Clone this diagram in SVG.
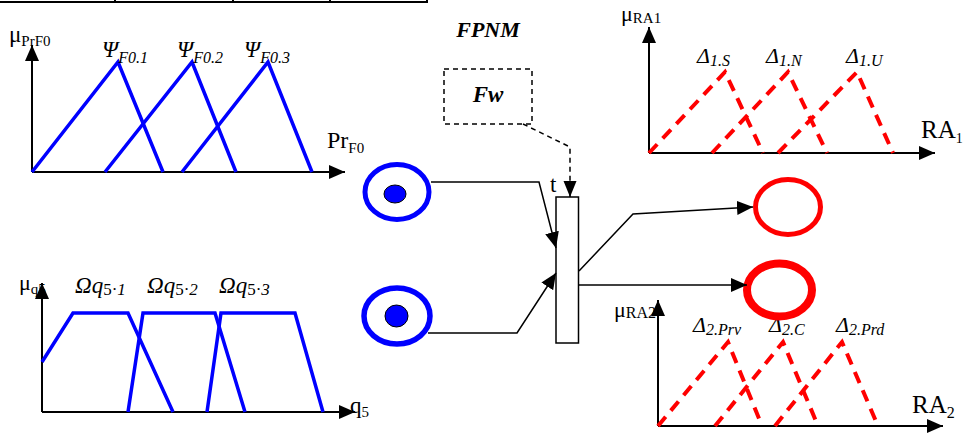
<svg xmlns="http://www.w3.org/2000/svg" width="964" height="434" viewBox="0 0 964 434" font-family="Liberation Serif, Times New Roman, serif">
<style>
.ax{stroke:#000;stroke-width:2;fill:none}
.blue{stroke:#0000ff;stroke-width:3.5;fill:none;stroke-linejoin:miter}
.red{stroke:#ff0000;stroke-width:4;fill:none;stroke-dasharray:12,8}
.con{stroke:#000;stroke-width:1.5;fill:none}
.dash{stroke:#000;stroke-width:1.5;fill:none;stroke-dasharray:5,4}
text{font-family:"Liberation Serif","Times New Roman",serif;fill:#000}
.it{font-style:italic}
.bi{font-style:italic;font-weight:bold}
</style>
<defs>
<marker id="ah" markerUnits="userSpaceOnUse" markerWidth="16" markerHeight="14" refX="16" refY="7" orient="auto">
<path d="M0,0 L16,7 L0,14 z" fill="#000"/>
</marker>
<marker id="ahs" markerUnits="userSpaceOnUse" markerWidth="16" markerHeight="14" refX="16" refY="7" orient="auto">
<path d="M0,0.5 L16,7 L0,13.5 z" fill="#000"/>
</marker>
</defs>

<!-- table fragment at top -->
<g id="table">
<line x1="0" y1="2" x2="428" y2="2" stroke="#000" stroke-width="2"/>
<line x1="115" y1="0" x2="115" y2="3" stroke="#000" stroke-width="2"/>
<line x1="233" y1="0" x2="233" y2="3" stroke="#000" stroke-width="2"/>
<line x1="330" y1="0" x2="330" y2="3" stroke="#000" stroke-width="2"/>
<line x1="427" y1="0" x2="427" y2="3" stroke="#000" stroke-width="2"/>
</g>

<!-- chart Pr_F0 -->
<g id="chart-prf0">
<line class="ax" x1="32" y1="172" x2="32" y2="45" marker-end="url(#ah)"/>
<line class="ax" x1="32" y1="172" x2="345" y2="172" marker-end="url(#ah)"/>
<polyline class="blue" points="32,172 118,62 163,172"/>
<polyline class="blue" points="105,172 192,62 236,172"/>
<polyline class="blue" points="182,172 268,62 312,172"/>
<text x="9" y="42" font-size="23">μ<tspan font-size="15" dy="4">PrF0</tspan></text>
<text class="it" x="102" y="57" font-size="23">Ψ<tspan font-size="16" dy="6">F0.1</tspan></text>
<text class="it" x="177" y="57" font-size="23">Ψ<tspan font-size="16" dy="6">F0.2</tspan></text>
<text class="it" x="244" y="57" font-size="23">Ψ<tspan font-size="16" dy="6">F0.3</tspan></text>
<text x="327" y="148" font-size="24">Pr<tspan font-size="15" dy="5">F0</tspan></text>
</g>

<!-- chart q5 -->
<g id="chart-q5">
<line class="ax" x1="42" y1="412" x2="42" y2="283" marker-end="url(#ah)"/>
<line class="ax" x1="42" y1="412" x2="355" y2="412" marker-end="url(#ah)"/>
<polyline class="blue" points="42,362 73,313 128,313 173,412"/>
<polyline class="blue" points="128,412 143,313 215,313 245,412"/>
<polyline class="blue" points="207,412 221,313 295,313 323,412"/>
<text x="19" y="290" font-size="22">μ<tspan font-size="15" dy="4">q5</tspan></text>
<text class="it" x="75" y="293" font-size="23">Ωq<tspan font-size="17" dy="2" font-style="normal">5·</tspan><tspan font-size="17">1</tspan></text>
<text class="it" x="147" y="293" font-size="23">Ωq<tspan font-size="17" dy="2" font-style="normal">5·</tspan><tspan font-size="17">2</tspan></text>
<text class="it" x="219" y="293" font-size="23">Ωq<tspan font-size="17" dy="2" font-style="normal">5·</tspan><tspan font-size="17">3</tspan></text>
<text x="350" y="413" font-size="23">q<tspan font-size="15" dy="4">5</tspan></text>
</g>

<!-- chart RA1 -->
<g id="chart-ra1">
<line class="ax" x1="649" y1="153" x2="649" y2="27" marker-end="url(#ah)"/>
<line class="ax" x1="649" y1="153" x2="935" y2="153" marker-end="url(#ah)"/>
<polyline class="red" points="649,153 725,72 763,153"/>
<polyline class="red" points="712,153 788,72 827,153"/>
<polyline class="red" points="778,153 857,72 893,153"/>
<text x="621" y="21" font-size="22">μ<tspan font-size="15" dy="2">RA1</tspan></text>
<text class="it" x="697" y="63" font-size="22">Δ<tspan font-size="16" dy="3">1.S</tspan></text>
<text class="it" x="766" y="63" font-size="22">Δ<tspan font-size="16" dy="3">1.N</tspan></text>
<text class="it" x="846" y="63" font-size="22">Δ<tspan font-size="16" dy="3">1.U</tspan></text>
<text x="921" y="138" font-size="25">RA<tspan font-size="14" dy="5">1</tspan></text>
</g>

<!-- chart RA2 -->
<g id="chart-ra2">
<line class="ax" x1="658" y1="426" x2="658" y2="300" marker-end="url(#ah)"/>
<line class="ax" x1="658" y1="426" x2="943" y2="426" marker-end="url(#ah)"/>
<polyline class="red" points="658,426 728,342 762,426"/>
<polyline class="red" points="715,426 783,342 818,426"/>
<polyline class="red" points="775,426 842,342 878,426"/>
<text x="614" y="317" font-size="22">μ<tspan font-size="16" dy="1">RA2</tspan></text>
<text class="it" x="693" y="332" font-size="22">Δ<tspan font-size="16" dy="3">2.Prv</tspan></text>
<text class="it" x="769" y="332" font-size="22">Δ<tspan font-size="16" dy="3">2.C</tspan></text>
<text class="it" x="836" y="332" font-size="22">Δ<tspan font-size="16" dy="3">2.Prd</tspan></text>
<text x="912" y="413" font-size="25">RA<tspan font-size="16" dy="5">2</tspan></text>
</g>

<!-- title -->
<g id="title">
<text class="bi" x="488" y="37" font-size="22" text-anchor="middle">FPNM</text>
</g>

<!-- Fw box -->
<g id="fw">
<rect class="dash" x="444" y="69" width="88" height="55"/>
<text class="bi" x="488" y="102" font-size="23" text-anchor="middle">Fw</text>
</g>

<!-- places -->
<g id="place-1">
<ellipse cx="397" cy="192" rx="32" ry="27.5" fill="none" stroke="#0000ff" stroke-width="5"/>
<ellipse cx="395" cy="194" rx="11" ry="9" fill="#0000ff" stroke="#000" stroke-width="1"/>
</g>
<g id="place-2">
<ellipse cx="397" cy="316" rx="33" ry="28" fill="none" stroke="#0000ff" stroke-width="5.5"/>
<ellipse cx="396.5" cy="316" rx="11.5" ry="11" fill="#0000ff" stroke="#000" stroke-width="1"/>
</g>
<g id="place-out-1">
<ellipse cx="788" cy="207" rx="32.5" ry="27.5" fill="none" stroke="#ff0000" stroke-width="5"/>
</g>
<g id="place-out-2">
<ellipse cx="779.5" cy="290" rx="32.5" ry="26.5" fill="none" stroke="#ff0000" stroke-width="8"/>
</g>

<!-- transition -->
<g id="transition-t">
<rect x="556" y="197" width="22.5" height="146" fill="#fff" stroke="#000" stroke-width="1.5"/>
<text x="550" y="192" font-size="23">t</text>
</g>

<!-- connectors -->
<g id="connectors">
<polyline class="con" points="431,182 539,182 556,248" marker-end="url(#ah)"/>
<polyline class="con" points="428,333 517,333 556,273" marker-end="url(#ah)"/>
<polyline class="con" points="579,271 633,214 753,207" marker-end="url(#ah)"/>
<polyline class="con" points="579,285 747,285" marker-end="url(#ah)"/>
<polyline class="dash" points="523,124 570,147 570,197" marker-end="url(#ahs)"/>
</g>
</svg>
